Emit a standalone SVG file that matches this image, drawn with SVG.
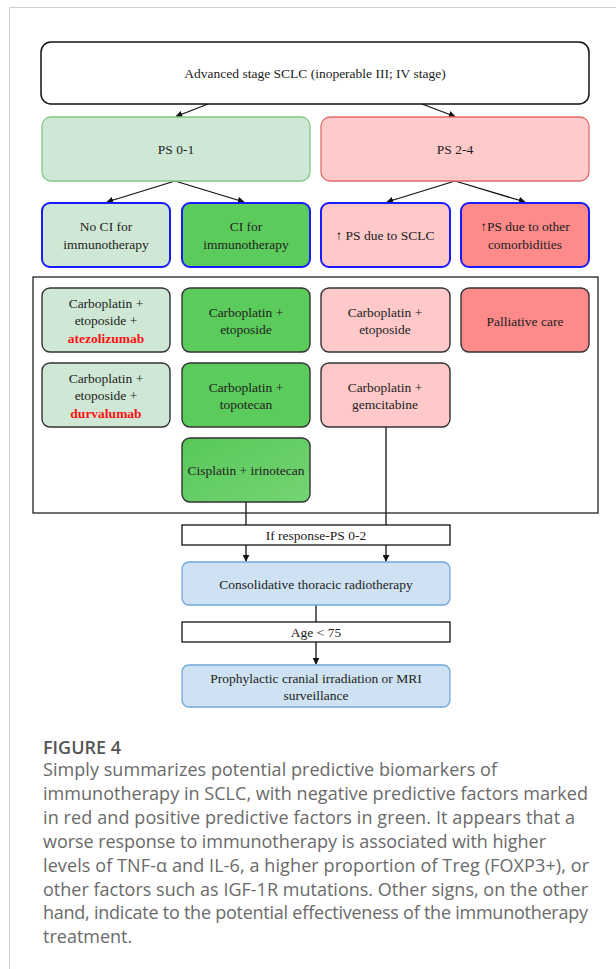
<svg xmlns="http://www.w3.org/2000/svg" width="616" height="969" viewBox="0 0 616 969">
<defs>
<marker id="ah" viewBox="0 0 10 10" refX="9" refY="5" markerWidth="7" markerHeight="7" orient="auto" markerUnits="userSpaceOnUse">
<path d="M0,0 L10,5 L0,10 z" fill="#111"/>
</marker>
<linearGradient id="gcis" x1="0" y1="0" x2="1" y2="1">
<stop offset="0" stop-color="#58c858"/>
<stop offset="1" stop-color="#74d474"/>
</linearGradient>
<style>
.t{font-family:"Liberation Serif","DejaVu Serif",serif;font-size:13.5px;fill:#222;text-anchor:middle}
.r{fill:#ff1010;font-weight:bold}
.lg{fill:#cfe8d6}
.bg{fill:#5bcc5b}
.pk{fill:#ffc9c9}
.rd{fill:#ff8a8a}
.blue{stroke:#1a1aff;stroke-width:2}
.dk{stroke:#333;stroke-width:1.4}
.cb{fill:#cfe2f3;stroke:#6fa8dc;stroke-width:1.3}
.ln{stroke:#111;stroke-width:1.3;fill:none}
.cap{font-family:"Open Sans","Noto Sans","Liberation Sans",sans-serif;font-size:18px;fill:#6a6a6a}
</style>
</defs>
<rect width="616" height="969" fill="#fff"/>
<path d="M9.5,969 V7.5 H616" fill="none" stroke="#d0d0d0" stroke-width="1"/>

<g id="connectors">
<line class="ln" x1="208" y1="104" x2="176" y2="116.5" marker-end="url(#ah)"/>
<line class="ln" x1="422" y1="104" x2="455" y2="116.5" marker-end="url(#ah)"/>
<line class="ln" x1="175" y1="181" x2="107" y2="202" marker-end="url(#ah)"/>
<line class="ln" x1="175" y1="181" x2="244" y2="202" marker-end="url(#ah)"/>
<line class="ln" x1="455" y1="181" x2="387" y2="202" marker-end="url(#ah)"/>
<line class="ln" x1="455" y1="181" x2="525" y2="202" marker-end="url(#ah)"/>
<line class="ln" x1="246" y1="502" x2="246" y2="525"/>
<line class="ln" x1="386" y1="427" x2="386" y2="525"/>
<line class="ln" x1="246" y1="545" x2="246" y2="561" marker-end="url(#ah)"/>
<line class="ln" x1="386" y1="545" x2="386" y2="561" marker-end="url(#ah)"/>
<line class="ln" x1="316" y1="605" x2="316" y2="622"/>
<line class="ln" x1="316" y1="642" x2="316" y2="664" marker-end="url(#ah)"/>
</g>

<g id="n-advanced">
<rect x="41" y="42" width="548" height="62" rx="10" fill="#fff" stroke="#111" stroke-width="1.5"/>
<text class="t" x="315" y="77.5">Advanced stage SCLC (inoperable III; IV stage)</text>
</g>
<g id="n-ps01">
<rect x="42" y="117" width="268" height="64" rx="9" fill="#cfe8d6" stroke="#80c880" stroke-width="1.3"/>
<text class="t" x="176" y="153.5">PS 0-1</text>
</g>
<g id="n-ps24">
<rect x="321" y="117" width="268" height="64" rx="9" fill="#ffcaca" stroke="#e06a6a" stroke-width="1.3"/>
<text class="t" x="455" y="153.5">PS 2-4</text>
</g>

<g id="n-noci">
<rect class="lg blue" x="42" y="203" width="128" height="64" rx="8"/>
<text class="t" x="106" y="231">No CI for</text>
<text class="t" x="106" y="248.5">immunotherapy</text>
</g>
<g id="n-ci">
<rect class="bg blue" x="182" y="203" width="128" height="64" rx="8"/>
<text class="t" x="246" y="231">CI for</text>
<text class="t" x="246" y="248.5">immunotherapy</text>
</g>
<g id="n-pssclc">
<rect class="pk blue" x="321" y="203" width="129" height="64" rx="8"/>
<text class="t" x="385" y="239.5">↑ PS due to SCLC</text>
</g>
<g id="n-psother">
<rect class="rd blue" x="461" y="203" width="128" height="64" rx="8"/>
<text class="t" x="525" y="231">↑PS due to other</text>
<text class="t" x="525" y="248.5">comorbidities</text>
</g>

<g id="treatments-frame">
<rect x="33" y="277" width="565" height="236" fill="none" stroke="#222" stroke-width="1.3"/>
</g>

<g id="n-atezo">
<rect class="lg dk" x="42" y="288" width="128" height="64" rx="8"/>
<text class="t" x="106" y="307.5">Carboplatin +</text>
<text class="t" x="106" y="325">etoposide +</text>
<text class="t r" x="106" y="342.5">atezolizumab</text>
</g>
<g id="n-durva">
<rect class="lg dk" x="42" y="363" width="128" height="64" rx="8"/>
<text class="t" x="106" y="382.5">Carboplatin +</text>
<text class="t" x="106" y="400">etoposide +</text>
<text class="t r" x="106" y="417.5">durvalumab</text>
</g>
<g id="n-carboeto-g">
<rect class="bg dk" x="182" y="288" width="128" height="64" rx="8"/>
<text class="t" x="246" y="316.5">Carboplatin +</text>
<text class="t" x="246" y="334">etoposide</text>
</g>
<g id="n-carbotopo">
<rect class="bg dk" x="182" y="363" width="128" height="64" rx="8"/>
<text class="t" x="246" y="391.5">Carboplatin +</text>
<text class="t" x="246" y="409">topotecan</text>
</g>
<g id="n-cisirino">
<rect x="182" y="438" width="128" height="64" rx="8" fill="url(#gcis)" class="dk"/>
<text class="t" x="246" y="474.5">Cisplatin + irinotecan</text>
</g>
<g id="n-carboeto-p">
<rect class="pk dk" x="321" y="288" width="129" height="64" rx="8"/>
<text class="t" x="385" y="316.5">Carboplatin +</text>
<text class="t" x="385" y="334">etoposide</text>
</g>
<g id="n-palliative">
<rect class="rd dk" x="461" y="288" width="128" height="64" rx="8"/>
<text class="t" x="525" y="325.5">Palliative care</text>
</g>
<g id="n-carbogem">
<rect class="pk dk" x="321" y="363" width="129" height="64" rx="8"/>
<text class="t" x="385" y="391.5">Carboplatin +</text>
<text class="t" x="385" y="409">gemcitabine</text>
</g>

<g id="n-ifresp">
<rect x="182" y="525" width="268" height="20" fill="#fff" stroke="#111" stroke-width="1.3"/>
<text class="t" x="316" y="540">If response-PS 0-2</text>
</g>
<g id="n-ctr">
<rect class="cb" x="182" y="562" width="268" height="43" rx="7"/>
<text class="t" x="316" y="588.5">Consolidative thoracic radiotherapy</text>
</g>
<g id="n-age">
<rect x="182" y="622" width="268" height="20" fill="#fff" stroke="#111" stroke-width="1.3"/>
<text class="t" x="316" y="637">Age &lt; 75</text>
</g>
<g id="n-pci">
<rect class="cb" x="182" y="665" width="268" height="42" rx="7"/>
<text class="t" x="316" y="682.5">Prophylactic cranial irradiation or MRI</text>
<text class="t" x="316" y="700">surveillance</text>
</g>

<g id="caption">
<text x="43" y="754" font-family="'Open Sans','Noto Sans','Liberation Sans',sans-serif" font-size="18" font-weight="600" fill="#555">FIGURE 4</text>
<text class="cap" x="43" y="776" textLength="454" lengthAdjust="spacing">Simply summarizes potential predictive biomarkers of</text>
<text class="cap" x="43" y="800" textLength="545" lengthAdjust="spacing">immunotherapy in SCLC, with negative predictive factors marked</text>
<text class="cap" x="43" y="824" textLength="532" lengthAdjust="spacing">in red and positive predictive factors in green. It appears that a</text>
<text class="cap" x="43" y="848" textLength="503" lengthAdjust="spacing">worse response to immunotherapy is associated with higher</text>
<text class="cap" x="43" y="872" textLength="546" lengthAdjust="spacing">levels of TNF-α and IL-6, a higher proportion of Treg (FOXP3+), or</text>
<text class="cap" x="43" y="896" textLength="545" lengthAdjust="spacing">other factors such as IGF-1R mutations. Other signs, on the other</text>
<text class="cap" x="43" y="919" textLength="545" lengthAdjust="spacing">hand, indicate to the potential effectiveness of the immunotherapy</text>
<text class="cap" x="43" y="943">treatment.</text>
</g>
</svg>
